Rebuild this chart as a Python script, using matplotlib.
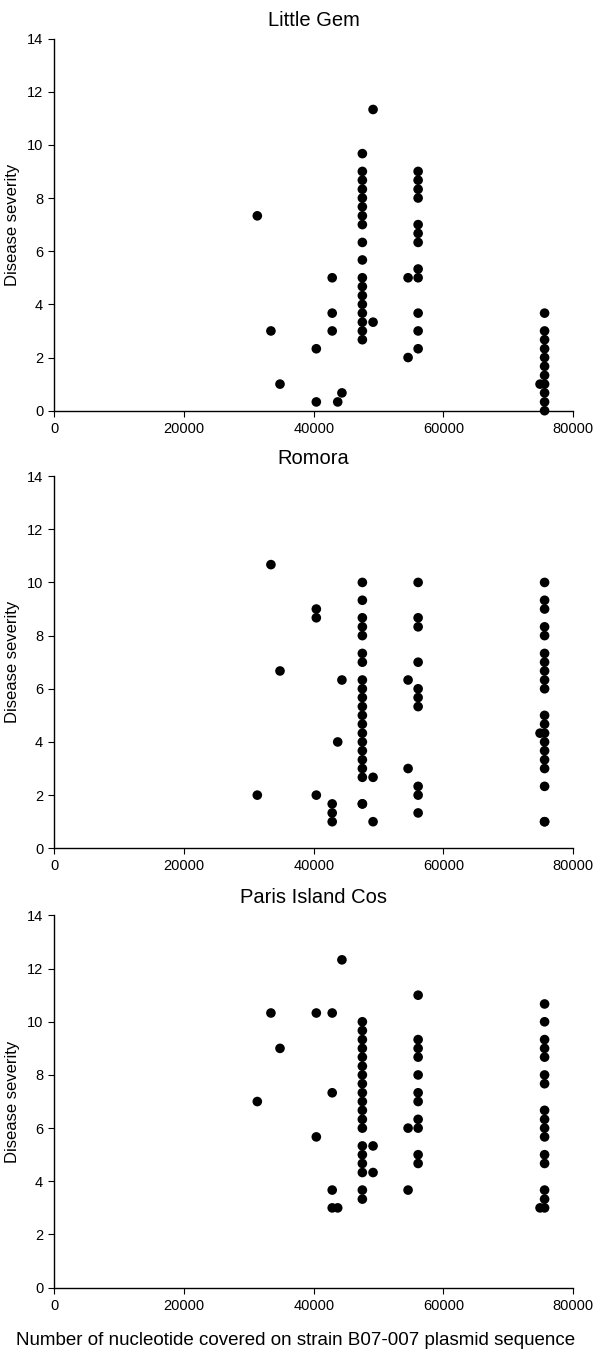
import numpy as np
import matplotlib
matplotlib.use("Agg")
import matplotlib.pyplot as plt

plt.rcParams['font.family'] = ['Liberation Sans', 'DejaVu Sans']

# x positions (nucleotides covered) for each strain column
X_31 = 31300
X_33 = 33400
X_34 = 34800
X_40 = 40400
X_42 = 42850
X_43 = 43700
X_44 = 44350
X_47 = 47500
X_49 = 49150
X_54 = 54550
X_56 = 56100
X_74 = 74900
X_75 = 75600

# Little Gem
lg_x = ([X_31, X_33, X_34, X_40, X_40, X_42, X_42, X_42, X_43, X_44]
        + [X_47] * 18 + [X_49, X_49, X_54, X_54] + [X_56] * 12
        + [X_74] + [X_75] * 11)
lg_y = ([7.33, 3.0, 1.0, 2.33, 0.33, 5.0, 3.67, 3.0, 0.33, 0.67]
        + [9.67, 9.0, 8.67, 8.33, 8.0, 7.67, 7.33, 7.0, 6.33, 5.67, 5.0,
           4.67, 4.33, 4.0, 3.67, 3.33, 3.0, 2.67]
        + [11.33, 3.33, 5.0, 2.0]
        + [9.0, 8.67, 8.33, 8.0, 7.0, 6.67, 6.33, 5.33, 5.0, 3.67, 3.0, 2.33]
        + [1.0]
        + [3.67, 3.0, 2.67, 2.33, 2.0, 1.67, 1.33, 1.0, 0.67, 0.33, 0.0])

# Romora
ro_x = ([X_31, X_33, X_34, X_40, X_40, X_40, X_42, X_42, X_42, X_43, X_44]
        + [X_47] * 21 + [X_49, X_49, X_54, X_54] + [X_56] * 10
        + [X_74] + [X_75] * 20)
ro_y = ([2.0, 10.67, 6.67, 9.0, 8.67, 2.0, 1.67, 1.33, 1.0, 4.0, 6.33]
        + [10.0, 9.33, 8.67, 8.33, 8.0, 7.33, 7.0, 6.33, 6.0, 5.67, 5.33,
           5.0, 4.67, 4.33, 4.0, 3.67, 3.33, 3.0, 2.67, 1.67, 1.67]
        + [2.67, 1.0, 6.33, 3.0]
        + [10.0, 8.67, 8.33, 7.0, 6.0, 5.67, 5.33, 2.33, 2.0, 1.33]
        + [4.33]
        + [10.0, 9.33, 9.0, 8.33, 8.0, 7.33, 7.0, 6.67, 6.33, 6.0, 5.0,
           4.67, 4.33, 4.0, 3.67, 3.33, 3.0, 2.33, 1.0, 1.0])

# Paris Island Cos
pi_x = ([X_31, X_33, X_34, X_40, X_40, X_42, X_42, X_42, X_42, X_43, X_44]
        + [X_47] * 19 + [X_49, X_49, X_54, X_54] + [X_56] * 11
        + [X_74] + [X_75] * 16)
pi_y = ([7.0, 10.33, 9.0, 10.33, 5.67, 10.33, 7.33, 3.67, 3.0, 3.0, 12.33]
        + [10.0, 9.67, 9.33, 9.0, 8.67, 8.33, 8.0, 7.67, 7.33, 7.0, 6.67,
           6.33, 6.0, 5.33, 5.0, 4.67, 4.33, 3.67, 3.33]
        + [5.33, 4.33, 6.0, 3.67]
        + [11.0, 9.33, 9.0, 8.67, 8.0, 7.33, 7.0, 6.33, 6.0, 5.0, 4.67]
        + [3.0]
        + [10.67, 10.0, 9.33, 9.0, 8.67, 8.0, 7.67, 6.67, 6.33, 6.0, 5.67,
           5.0, 4.67, 3.67, 3.33, 3.0])

titles = ["Little Gem", "Romora", "Paris Island Cos"]
panels = [(lg_x, lg_y), (ro_x, ro_y), (pi_x, pi_y)]
x_ticks = [0, 20000, 40000, 60000, 80000]
y_ticks = [0, 2, 4, 6, 8, 10, 12, 14]

fig = plt.figure(figsize=(5.97, 13.51), dpi=100)
bottoms = [0.696, 0.3721, 0.0469]
height = 0.2755

for i, (title, (xs, ys)) in enumerate(zip(titles, panels)):
    ax = fig.add_axes([0.091, bottoms[i], 0.869, height])
    ax.scatter(xs, ys, s=48, color='black', edgecolors='none', clip_on=False, zorder=3)
    ax.set_xlim(0, 80000)
    ax.set_ylim(0, 14)
    ax.set_xticks(x_ticks)
    ax.set_yticks(y_ticks)
    ax.tick_params(direction='out', length=4, width=0.8, labelsize=10.5, pad=4)
    for side in ['top', 'right']:
        ax.spines[side].set_visible(False)
    ax.spines['left'].set_linewidth(1.0)
    ax.spines['bottom'].set_linewidth(1.0)
    ax.set_ylabel("Disease severity", fontsize=12, labelpad=5)
    ax.set_title(title, fontsize=14.5, pad=9)
    if i == 2:
        ax.set_xlabel("Number of nucleotide covered on strain B07-007 plasmid sequence",
                      fontsize=13.5)
        ax.xaxis.set_label_coords(0.465, -0.118)

fig.savefig("out.png", dpi=100)
